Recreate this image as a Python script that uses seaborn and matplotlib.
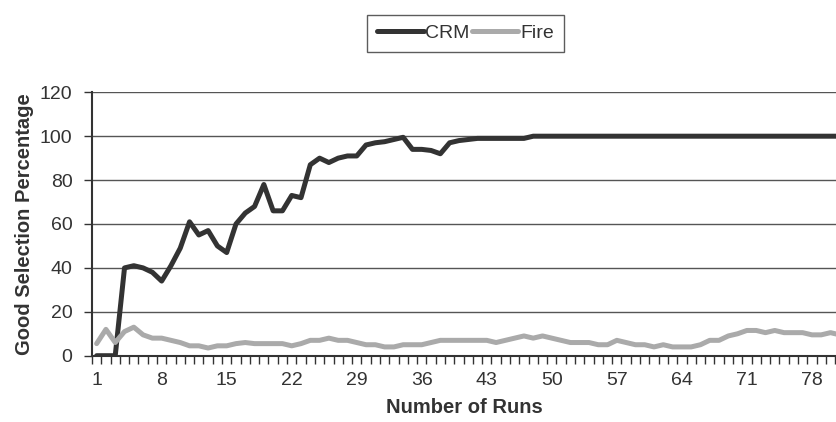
import pandas as pd
import matplotlib.pyplot as plt
import seaborn as sns

runs = list(range(1, 82))

crm = [0, 0, 0, 40, 41, 40, 38, 34, 41, 49,
       61, 55, 57, 50, 47, 60, 65, 68, 78, 66,
       66, 73, 72, 87, 90, 88, 90, 91, 91, 96,
       97, 97.5, 98.5, 99.5, 94, 94, 93.5, 92, 97, 98,
       98.5, 99, 99, 99, 99, 99, 99] + [100] * 34

fire = [5.5, 12, 6, 11, 13, 9.5, 8, 8, 7, 6,
        4.5, 4.5, 3.5, 4.5, 4.5, 5.5, 6, 5.5, 5.5, 5.5,
        5.5, 4.5, 5.5, 7, 7, 8, 7, 7, 6, 5,
        5, 4, 4, 5, 5, 5, 6, 7, 7, 7,
        7, 7, 7, 6, 7, 8, 9, 8, 9, 8,
        7, 6, 6, 6, 5, 5, 7, 6, 5, 5,
        4, 5, 4, 4, 4, 5, 7, 7, 9, 10,
        11.5, 11.5, 10.5, 11.5, 10.5, 10.5, 10.5, 9.5, 9.5, 10.5,
        9.5]

xtick_labels = list(range(1, 80, 7))

df = pd.DataFrame({
    "run": runs * 2,
    "value": crm + fire,
    "series": ["CRM"] * len(runs) + ["Fire"] * len(runs),
})

sns.set_style("white")
plt.rcParams["font.family"] = ["Liberation Sans", "DejaVu Sans"]

fig = plt.figure(figsize=(8.37, 4.22), dpi=100)
ax = fig.add_axes([92 / 837, 66.3 / 422, 1 - 92 / 837, 263.4 / 422])

sns.lineplot(data=df, x="run", y="value", hue="series",
             palette={"CRM": "#333333", "Fire": "#aaaaaa"},
             linewidth=3.6, ax=ax, legend=False)

ax.set_xlim(0.5, 80.7)
ax.set_ylim(0, 120)
ax.set_yticks(range(0, 121, 20))
ax.yaxis.grid(True, color="#555555", linewidth=1)
ax.set_axisbelow(True)

# labels under every 7th run, tick marks between runs
ax.set_xticks(xtick_labels)
ax.set_xticklabels([str(v) for v in xtick_labels])
ax.set_xticks([v + 0.5 for v in range(0, 81)], minor=True)
ax.tick_params(axis="x", which="major", length=0, labelsize=14, pad=12,
               labelcolor="#333333")
ax.tick_params(axis="x", which="minor", length=6, width=1, color="#333333",
               direction="out", bottom=True)
ax.tick_params(axis="y", length=6, width=1, color="#333333", direction="out",
               left=True, labelsize=14, pad=8, labelcolor="#333333")

for side in ["top", "right"]:
    ax.spines[side].set_visible(False)
for side in ["left", "bottom"]:
    ax.spines[side].set_color("#333333")
    ax.spines[side].set_linewidth(1.5)

ax.set_xlabel("Number of Runs", fontsize=14.5, fontweight="bold",
              labelpad=6, color="#333333")
ax.set_ylabel("Good Selection Percentage", fontsize=14.5, fontweight="bold",
              labelpad=4, color="#333333")

handles = [plt.Line2D([], [], color="#333333", linewidth=3.6),
           plt.Line2D([], [], color="#aaaaaa", linewidth=3.6)]
leg = fig.legend(handles, ["CRM", "Fire"], ncol=2, loc="center",
                 bbox_to_anchor=(465.5 / 837, 1 - 33.5 / 422),
                 fontsize=14, frameon=True, fancybox=False,
                 handlelength=2.4, handletextpad=0.1, columnspacing=0.1,
                 borderpad=0.5, edgecolor="#333333")
leg.get_frame().set_linewidth(1)
for t in leg.get_texts():
    t.set_color("#333333")

fig.savefig("out.png", dpi=100)
